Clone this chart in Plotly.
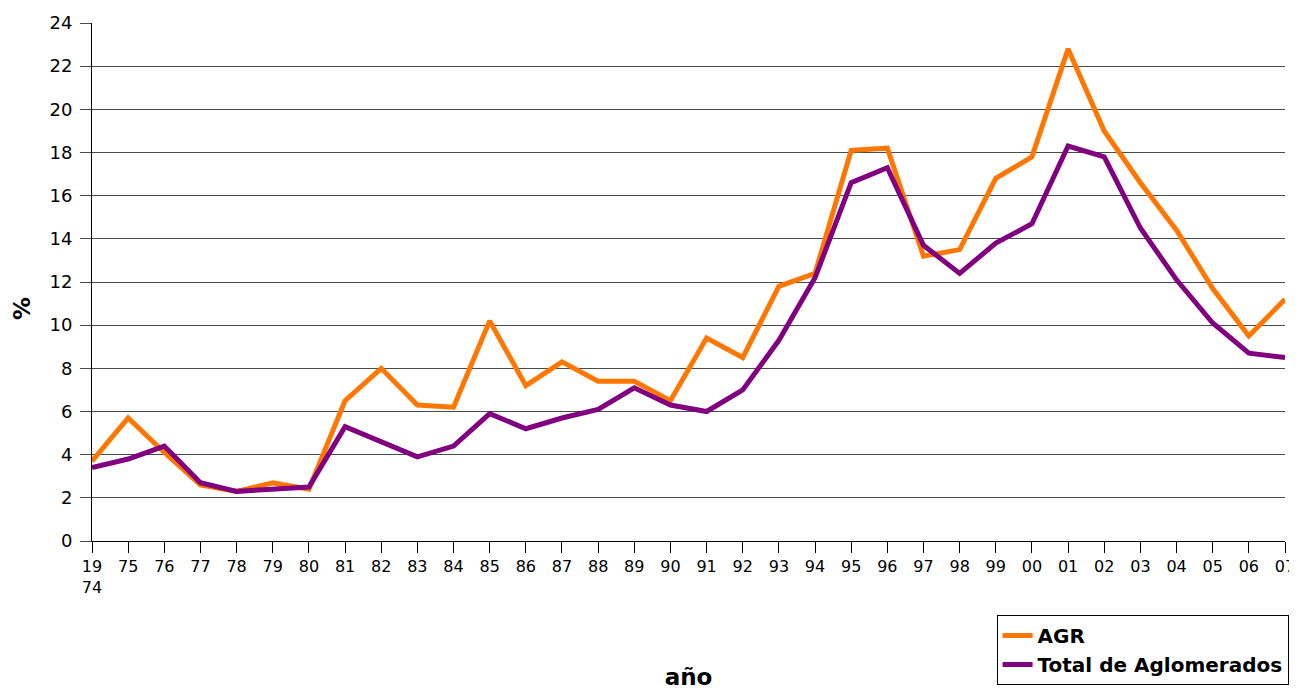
import plotly.graph_objects as go

years = list(range(1974, 2008))
tick_labels = ["19<br>74", "75", "76", "77", "78", "79", "80", "81", "82", "83", "84",
               "85", "86", "87", "88", "89", "90", "91", "92", "93", "94", "95", "96",
               "97", "98", "99", "00", "01", "02", "03", "04", "05", "06", "07"]
agr = [3.7, 5.7, 4.1, 2.6, 2.3, 2.7, 2.4, 6.5, 8.0, 6.3, 6.2, 10.2, 7.2, 8.3, 7.4, 7.4,
       6.5, 9.4, 8.5, 11.8, 12.4, 18.1, 18.2, 13.2, 13.5, 16.8, 17.8, 22.8, 19.0, 16.6,
       14.4, 11.7, 9.5, 11.2]
total = [3.4, 3.8, 4.4, 2.7, 2.3, 2.4, 2.5, 5.3, 4.6, 3.9, 4.4, 5.9, 5.2, 5.7, 6.1, 7.1,
         6.3, 6.0, 7.0, 9.3, 12.2, 16.6, 17.3, 13.7, 12.4, 13.8, 14.7, 18.3, 17.8, 14.5,
         12.1, 10.1, 8.7, 8.5]
y_ticks = list(range(0, 25, 2))

# page body has an 8px margin; figure is sized/offset to compensate
W, H = 1289, 682
L, T, R, B = 84, 15, 12, 149

fig = go.Figure()
fig.add_trace(go.Scatter(x=years, y=agr, mode="lines", name="AGR",
                         line=dict(color="#ff7700", width=5)))
fig.add_trace(go.Scatter(x=years, y=total, mode="lines", name="Total de Aglomerados",
                         line=dict(color="#800080", width=5)))

pw, ph = W - L - R, H - T - B

fig.update_layout(
    width=W, height=H,
    margin=dict(l=L, r=R, t=T, b=B, autoexpand=False),
    paper_bgcolor="white", plot_bgcolor="white",
    font=dict(family="DejaVu Sans", color="black"),
    showlegend=True,
    legend=dict(x=1.003, xanchor="right", y=(533 - 607) / ph, yanchor="top",
                bordercolor="black", borderwidth=1, bgcolor="white",
                font=dict(size=20, family="DejaVu Sans", color="black", weight="bold"),
                tracegroupgap=0),
    xaxis=dict(range=[1974, 2007], tickvals=years, ticktext=tick_labels,
               showgrid=False, zeroline=False, showline=True, linecolor="black",
               linewidth=1, ticks="outside", ticklen=11, tickcolor="black",
               tickfont=dict(size=16), tickangle=0, automargin=False,
               title=dict(text="año", font=dict(size=23, weight="bold"), standoff=82)),
    yaxis=dict(range=[0, 24], tickvals=y_ticks, showgrid=True, gridcolor="#4a4a4a",
               gridwidth=1, zeroline=False, showline=True, linecolor="black",
               linewidth=1, ticks="outside", ticklen=11, tickcolor="#4a4a4a",
               tickfont=dict(size=18), automargin=False, ticklabelstandoff=4),
    annotations=[dict(text="<b>%</b>", x=(14 - L) / pw, y=(533 - 301) / ph,
                      xref="paper", yref="paper", xanchor="center", yanchor="middle",
                      showarrow=False, textangle=-90, font=dict(size=23))],
)

fig.write_html("out.html")
